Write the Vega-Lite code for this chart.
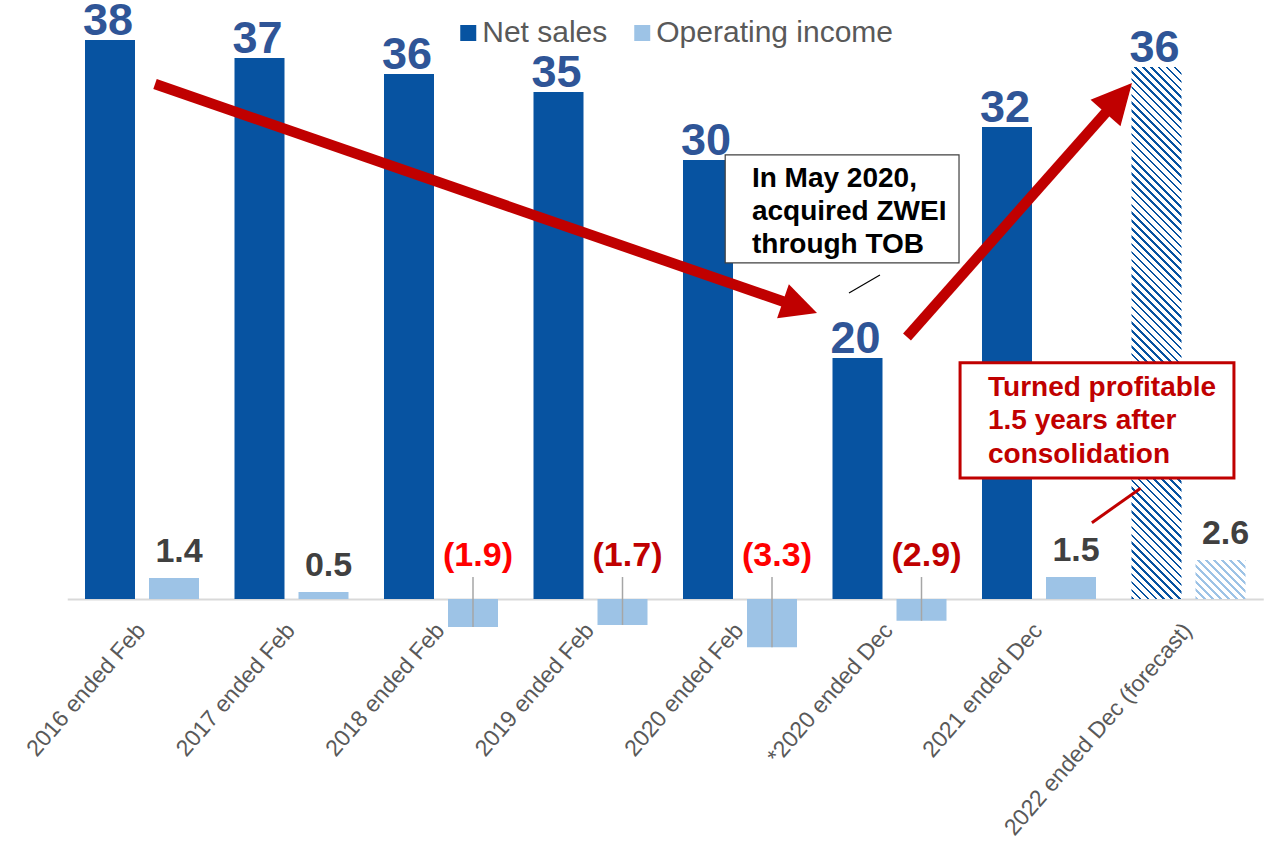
{
"$schema":"https://vega.github.io/schema/vega-lite/v6.json",
"width":1196,"height":660,
"autosize":{"type":"none"},
"padding":{"left":67.25,"right":2.75,"top":0,"bottom":184},
"background":"#ffffff",
"config":{"view":{"stroke":null},"font":"Liberation Sans"},
"datasets":{
"fin":[
{"period":"2016 ended Feb","series":"Net sales","value":38.16,"label":"38"},
{"period":"2017 ended Feb","series":"Net sales","value":36.93,"label":"37"},
{"period":"2018 ended Feb","series":"Net sales","value":35.84,"label":"36"},
{"period":"2019 ended Feb","series":"Net sales","value":34.61,"label":"35"},
{"period":"2020 ended Feb","series":"Net sales","value":29.97,"label":"30"},
{"period":"*2020 ended Dec","series":"Net sales","value":16.45,"label":"20"},
{"period":"2021 ended Dec","series":"Net sales","value":32.22,"label":"32"},
{"period":"2022 ended Dec (forecast)","series":"Net sales","value":36.31,"label":"36"},
{"period":"2016 ended Feb","series":"Operating income","value":1.43,"label":"1.4"},
{"period":"2017 ended Feb","series":"Operating income","value":0.48,"label":"0.5"},
{"period":"2018 ended Feb","series":"Operating income","value":-1.91,"label":"(1.9)"},
{"period":"2019 ended Feb","series":"Operating income","value":-1.77,"label":"(1.7)"},
{"period":"2020 ended Feb","series":"Operating income","value":-3.3,"label":"(3.3)"},
{"period":"*2020 ended Dec","series":"Operating income","value":-1.49,"label":"(2.9)"},
{"period":"2021 ended Dec","series":"Operating income","value":1.5,"label":"1.5"},
{"period":"2022 ended Dec (forecast)","series":"Operating income","value":2.66,"label":"2.6"}
],
"notes":[
{"kind":"shaft","x":0.587,"y":35.15,"x2":4.808,"y2":20.24},
{"kind":"shaft","x":5.617,"y":17.88,"x2":6.962,"y2":33.38},
{"kind":"head1","x":5.015,"y":19.52},
{"kind":"head2","x":7.122,"y":35.22},
{"kind":"box1","x":4.401,"x2":5.965,"y":30.31,"y2":22.94},
{"kind":"box2","x":5.972,"x2":7.804,"y":16.13,"y2":8.26},
{"kind":"lead1","x":5.436,"y":22.12,"x2":5.229,"y2":20.89},
{"kind":"lead2","x":6.854,"y":5.21,"x2":7.18,"y2":7.56},
{"kind":"text1","x":4.58,"y":28.14,"text":"In May 2020,\nacquired ZWEI\nthrough TOB"},
{"kind":"text2","x":6.159,"y":13.86,"text":"Turned profitable\n1.5 years after\nconsolidation"}
]
},
"layer":[
  {"data":{"name":"fin"},
   "transform":[{"filter":"datum.period != '2022 ended Dec (forecast)'"}],
   "mark":{"type":"bar"},
   "encoding":{
    "x":{"field":"period","type":"nominal","sort":null,
     "scale":{"domain":["2016 ended Feb","2017 ended Feb","2018 ended Feb","2019 ended Feb","2020 ended Feb","*2020 ended Dec","2021 ended Dec","2022 ended Dec (forecast)"],"paddingInner":0,"paddingOuter":0},
     "axis":{"title":null,"labelAngle":-49,"labelAlign":"right","labelBaseline":"top","labelFontSize":23,"labelColor":"#595959","labelFont":"Liberation Sans","ticks":false,"tickSize":0,"labelPadding":20,"labelOffset":-9,"domainColor":"#D9D9D9","domainWidth":2,"offset":-61,"labelLimit":400,"labelOverlap":false,"grid":false}},
    "xOffset":{"field":"series","type":"nominal","scale":{"domain":["Net sales","Operating income"],"paddingInner":0.21875,"paddingOuter":0.2773}},
    "y":{"field":"value","type":"quantitative","scale":{"domain":[-4.164,40.887],"nice":false,"zero":false},"axis":null},
    "color":{"field":"series","type":"nominal","scale":{"domain":["Net sales","Operating income"],"range":["#0753A1","#9DC3E6"]},
     "legend":{"orient":"none","legendX":386,"legendY":18,"direction":"horizontal","title":null,"symbolType":"square","symbolSize":256,"symbolStrokeWidth":0,"symbolOpacity":1,"labelFontSize":30,"labelColor":"#595959","labelFont":"Liberation Sans","labelLimit":400,"padding":0,"columnPadding":19,"labelOffset":-1}}
   }},
  {"data":{"name":"fin"},
   "transform":[{"filter":"datum.period == '2022 ended Dec (forecast)' && datum.series == 'Net sales'"}],
   "mark":{"type":"bar","color":{"gradient":"linear","x1":0,"y1":1,"x2":0.10192,"y2":-0.08443,"stops":[
{"offset":0,"color":"#0753a1"},{"offset":0.0045,"color":"#0753a1"},{"offset":0.0045,"color":"#fff"},{"offset":0.0135,"color":"#fff"},
{"offset":0.0135,"color":"#0753a1"},{"offset":0.018,"color":"#0753a1"},{"offset":0.018,"color":"#fff"},{"offset":0.027,"color":"#fff"},
{"offset":0.027,"color":"#0753a1"},{"offset":0.0315,"color":"#0753a1"},{"offset":0.0315,"color":"#fff"},{"offset":0.0405,"color":"#fff"},
{"offset":0.0405,"color":"#0753a1"},{"offset":0.045,"color":"#0753a1"},{"offset":0.045,"color":"#fff"},{"offset":0.054,"color":"#fff"},
{"offset":0.054,"color":"#0753a1"},{"offset":0.0585,"color":"#0753a1"},{"offset":0.0585,"color":"#fff"},{"offset":0.0675,"color":"#fff"},
{"offset":0.0675,"color":"#0753a1"},{"offset":0.072,"color":"#0753a1"},{"offset":0.072,"color":"#fff"},{"offset":0.081,"color":"#fff"},
{"offset":0.081,"color":"#0753a1"},{"offset":0.0855,"color":"#0753a1"},{"offset":0.0855,"color":"#fff"},{"offset":0.0945,"color":"#fff"},
{"offset":0.0945,"color":"#0753a1"},{"offset":0.099,"color":"#0753a1"},{"offset":0.099,"color":"#fff"},{"offset":0.108,"color":"#fff"},
{"offset":0.108,"color":"#0753a1"},{"offset":0.1125,"color":"#0753a1"},{"offset":0.1125,"color":"#fff"},{"offset":0.1215,"color":"#fff"},
{"offset":0.1215,"color":"#0753a1"},{"offset":0.126,"color":"#0753a1"},{"offset":0.126,"color":"#fff"},{"offset":0.135,"color":"#fff"},
{"offset":0.135,"color":"#0753a1"},{"offset":0.1395,"color":"#0753a1"},{"offset":0.1395,"color":"#fff"},{"offset":0.1485,"color":"#fff"},
{"offset":0.1485,"color":"#0753a1"},{"offset":0.153,"color":"#0753a1"},{"offset":0.153,"color":"#fff"},{"offset":0.162,"color":"#fff"},
{"offset":0.162,"color":"#0753a1"},{"offset":0.1665,"color":"#0753a1"},{"offset":0.1665,"color":"#fff"},{"offset":0.1755,"color":"#fff"},
{"offset":0.1755,"color":"#0753a1"},{"offset":0.18,"color":"#0753a1"},{"offset":0.18,"color":"#fff"},{"offset":0.189,"color":"#fff"},
{"offset":0.189,"color":"#0753a1"},{"offset":0.1935,"color":"#0753a1"},{"offset":0.1935,"color":"#fff"},{"offset":0.2025,"color":"#fff"},
{"offset":0.2025,"color":"#0753a1"},{"offset":0.207,"color":"#0753a1"},{"offset":0.207,"color":"#fff"},{"offset":0.216,"color":"#fff"},
{"offset":0.216,"color":"#0753a1"},{"offset":0.2205,"color":"#0753a1"},{"offset":0.2205,"color":"#fff"},{"offset":0.2295,"color":"#fff"},
{"offset":0.2295,"color":"#0753a1"},{"offset":0.234,"color":"#0753a1"},{"offset":0.234,"color":"#fff"},{"offset":0.243,"color":"#fff"},
{"offset":0.243,"color":"#0753a1"},{"offset":0.2475,"color":"#0753a1"},{"offset":0.2475,"color":"#fff"},{"offset":0.2565,"color":"#fff"},
{"offset":0.2565,"color":"#0753a1"},{"offset":0.261,"color":"#0753a1"},{"offset":0.261,"color":"#fff"},{"offset":0.27,"color":"#fff"},
{"offset":0.27,"color":"#0753a1"},{"offset":0.2745,"color":"#0753a1"},{"offset":0.2745,"color":"#fff"},{"offset":0.2835,"color":"#fff"},
{"offset":0.2835,"color":"#0753a1"},{"offset":0.288,"color":"#0753a1"},{"offset":0.288,"color":"#fff"},{"offset":0.297,"color":"#fff"},
{"offset":0.297,"color":"#0753a1"},{"offset":0.3015,"color":"#0753a1"},{"offset":0.3015,"color":"#fff"},{"offset":0.3105,"color":"#fff"},
{"offset":0.3105,"color":"#0753a1"},{"offset":0.315,"color":"#0753a1"},{"offset":0.315,"color":"#fff"},{"offset":0.324,"color":"#fff"},
{"offset":0.324,"color":"#0753a1"},{"offset":0.3285,"color":"#0753a1"},{"offset":0.3285,"color":"#fff"},{"offset":0.3375,"color":"#fff"},
{"offset":0.3375,"color":"#0753a1"},{"offset":0.342,"color":"#0753a1"},{"offset":0.342,"color":"#fff"},{"offset":0.351,"color":"#fff"},
{"offset":0.351,"color":"#0753a1"},{"offset":0.3555,"color":"#0753a1"},{"offset":0.3555,"color":"#fff"},{"offset":0.3645,"color":"#fff"},
{"offset":0.3645,"color":"#0753a1"},{"offset":0.369,"color":"#0753a1"},{"offset":0.369,"color":"#fff"},{"offset":0.378,"color":"#fff"},
{"offset":0.378,"color":"#0753a1"},{"offset":0.3825,"color":"#0753a1"},{"offset":0.3825,"color":"#fff"},{"offset":0.3915,"color":"#fff"},
{"offset":0.3915,"color":"#0753a1"},{"offset":0.396,"color":"#0753a1"},{"offset":0.396,"color":"#fff"},{"offset":0.405,"color":"#fff"},
{"offset":0.405,"color":"#0753a1"},{"offset":0.4095,"color":"#0753a1"},{"offset":0.4095,"color":"#fff"},{"offset":0.4185,"color":"#fff"},
{"offset":0.4185,"color":"#0753a1"},{"offset":0.423,"color":"#0753a1"},{"offset":0.423,"color":"#fff"},{"offset":0.432,"color":"#fff"},
{"offset":0.432,"color":"#0753a1"},{"offset":0.4365,"color":"#0753a1"},{"offset":0.4365,"color":"#fff"},{"offset":0.4455,"color":"#fff"},
{"offset":0.4455,"color":"#0753a1"},{"offset":0.45,"color":"#0753a1"},{"offset":0.45,"color":"#fff"},{"offset":0.459,"color":"#fff"},
{"offset":0.459,"color":"#0753a1"},{"offset":0.4635,"color":"#0753a1"},{"offset":0.4635,"color":"#fff"},{"offset":0.4725,"color":"#fff"},
{"offset":0.4725,"color":"#0753a1"},{"offset":0.477,"color":"#0753a1"},{"offset":0.477,"color":"#fff"},{"offset":0.486,"color":"#fff"},
{"offset":0.486,"color":"#0753a1"},{"offset":0.4905,"color":"#0753a1"},{"offset":0.4905,"color":"#fff"},{"offset":0.4995,"color":"#fff"},
{"offset":0.4995,"color":"#0753a1"},{"offset":0.504,"color":"#0753a1"},{"offset":0.504,"color":"#fff"},{"offset":0.513,"color":"#fff"},
{"offset":0.513,"color":"#0753a1"},{"offset":0.5175,"color":"#0753a1"},{"offset":0.5175,"color":"#fff"},{"offset":0.5265,"color":"#fff"},
{"offset":0.5265,"color":"#0753a1"},{"offset":0.531,"color":"#0753a1"},{"offset":0.531,"color":"#fff"},{"offset":0.54,"color":"#fff"},
{"offset":0.54,"color":"#0753a1"},{"offset":0.5445,"color":"#0753a1"},{"offset":0.5445,"color":"#fff"},{"offset":0.5535,"color":"#fff"},
{"offset":0.5535,"color":"#0753a1"},{"offset":0.558,"color":"#0753a1"},{"offset":0.558,"color":"#fff"},{"offset":0.567,"color":"#fff"},
{"offset":0.567,"color":"#0753a1"},{"offset":0.5715,"color":"#0753a1"},{"offset":0.5715,"color":"#fff"},{"offset":0.5805,"color":"#fff"},
{"offset":0.5805,"color":"#0753a1"},{"offset":0.585,"color":"#0753a1"},{"offset":0.585,"color":"#fff"},{"offset":0.594,"color":"#fff"},
{"offset":0.594,"color":"#0753a1"},{"offset":0.5985,"color":"#0753a1"},{"offset":0.5985,"color":"#fff"},{"offset":0.6075,"color":"#fff"},
{"offset":0.6075,"color":"#0753a1"},{"offset":0.612,"color":"#0753a1"},{"offset":0.612,"color":"#fff"},{"offset":0.621,"color":"#fff"},
{"offset":0.621,"color":"#0753a1"},{"offset":0.6255,"color":"#0753a1"},{"offset":0.6255,"color":"#fff"},{"offset":0.6345,"color":"#fff"},
{"offset":0.6345,"color":"#0753a1"},{"offset":0.639,"color":"#0753a1"},{"offset":0.639,"color":"#fff"},{"offset":0.648,"color":"#fff"},
{"offset":0.648,"color":"#0753a1"},{"offset":0.6525,"color":"#0753a1"},{"offset":0.6525,"color":"#fff"},{"offset":0.6615,"color":"#fff"},
{"offset":0.6615,"color":"#0753a1"},{"offset":0.666,"color":"#0753a1"},{"offset":0.666,"color":"#fff"},{"offset":0.675,"color":"#fff"},
{"offset":0.675,"color":"#0753a1"},{"offset":0.6795,"color":"#0753a1"},{"offset":0.6795,"color":"#fff"},{"offset":0.6885,"color":"#fff"},
{"offset":0.6885,"color":"#0753a1"},{"offset":0.693,"color":"#0753a1"},{"offset":0.693,"color":"#fff"},{"offset":0.702,"color":"#fff"},
{"offset":0.702,"color":"#0753a1"},{"offset":0.7065,"color":"#0753a1"},{"offset":0.7065,"color":"#fff"},{"offset":0.7155,"color":"#fff"},
{"offset":0.7155,"color":"#0753a1"},{"offset":0.72,"color":"#0753a1"},{"offset":0.72,"color":"#fff"},{"offset":0.729,"color":"#fff"},
{"offset":0.729,"color":"#0753a1"},{"offset":0.7335,"color":"#0753a1"},{"offset":0.7335,"color":"#fff"},{"offset":0.7425,"color":"#fff"},
{"offset":0.7425,"color":"#0753a1"},{"offset":0.747,"color":"#0753a1"},{"offset":0.747,"color":"#fff"},{"offset":0.756,"color":"#fff"},
{"offset":0.756,"color":"#0753a1"},{"offset":0.7605,"color":"#0753a1"},{"offset":0.7605,"color":"#fff"},{"offset":0.7695,"color":"#fff"},
{"offset":0.7695,"color":"#0753a1"},{"offset":0.774,"color":"#0753a1"},{"offset":0.774,"color":"#fff"},{"offset":0.783,"color":"#fff"},
{"offset":0.783,"color":"#0753a1"},{"offset":0.7875,"color":"#0753a1"},{"offset":0.7875,"color":"#fff"},{"offset":0.7965,"color":"#fff"},
{"offset":0.7965,"color":"#0753a1"},{"offset":0.801,"color":"#0753a1"},{"offset":0.801,"color":"#fff"},{"offset":0.81,"color":"#fff"},
{"offset":0.81,"color":"#0753a1"},{"offset":0.8145,"color":"#0753a1"},{"offset":0.8145,"color":"#fff"},{"offset":0.8235,"color":"#fff"},
{"offset":0.8235,"color":"#0753a1"},{"offset":0.828,"color":"#0753a1"},{"offset":0.828,"color":"#fff"},{"offset":0.837,"color":"#fff"},
{"offset":0.837,"color":"#0753a1"},{"offset":0.8415,"color":"#0753a1"},{"offset":0.8415,"color":"#fff"},{"offset":0.8505,"color":"#fff"},
{"offset":0.8505,"color":"#0753a1"},{"offset":0.855,"color":"#0753a1"},{"offset":0.855,"color":"#fff"},{"offset":0.864,"color":"#fff"},
{"offset":0.864,"color":"#0753a1"},{"offset":0.8685,"color":"#0753a1"},{"offset":0.8685,"color":"#fff"},{"offset":0.8775,"color":"#fff"},
{"offset":0.8775,"color":"#0753a1"},{"offset":0.882,"color":"#0753a1"},{"offset":0.882,"color":"#fff"},{"offset":0.891,"color":"#fff"},
{"offset":0.891,"color":"#0753a1"},{"offset":0.8955,"color":"#0753a1"},{"offset":0.8955,"color":"#fff"},{"offset":0.9045,"color":"#fff"},
{"offset":0.9045,"color":"#0753a1"},{"offset":0.909,"color":"#0753a1"},{"offset":0.909,"color":"#fff"},{"offset":0.918,"color":"#fff"},
{"offset":0.918,"color":"#0753a1"},{"offset":0.9225,"color":"#0753a1"},{"offset":0.9225,"color":"#fff"},{"offset":0.9315,"color":"#fff"},
{"offset":0.9315,"color":"#0753a1"},{"offset":0.936,"color":"#0753a1"},{"offset":0.936,"color":"#fff"},{"offset":0.945,"color":"#fff"},
{"offset":0.945,"color":"#0753a1"},{"offset":0.9495,"color":"#0753a1"},{"offset":0.9495,"color":"#fff"},{"offset":0.9585,"color":"#fff"},
{"offset":0.9585,"color":"#0753a1"},{"offset":0.963,"color":"#0753a1"},{"offset":0.963,"color":"#fff"},{"offset":0.972,"color":"#fff"},
{"offset":0.972,"color":"#0753a1"},{"offset":0.9765,"color":"#0753a1"},{"offset":0.9765,"color":"#fff"},{"offset":0.9855,"color":"#fff"},
{"offset":0.9855,"color":"#0753a1"},{"offset":0.99,"color":"#0753a1"},{"offset":0.99,"color":"#fff"},{"offset":1,"color":"#fff"}
]}},
   "encoding":{
    "x":{"field":"period","type":"nominal","sort":null,"scale":{"domain":["2016 ended Feb","2017 ended Feb","2018 ended Feb","2019 ended Feb","2020 ended Feb","*2020 ended Dec","2021 ended Dec","2022 ended Dec (forecast)"],"paddingInner":0,"paddingOuter":0},"axis":null},
    "xOffset":{"field":"series","type":"nominal","scale":{"domain":["Net sales","Operating income"],"paddingInner":0.21875,"paddingOuter":0.2773}},
    "y":{"field":"value","type":"quantitative","scale":{"domain":[-4.164,40.887],"nice":false,"zero":false},"axis":null}}},
  {"data":{"name":"fin"},
   "transform":[{"filter":"datum.period == '2022 ended Dec (forecast)' && datum.series == 'Operating income'"}],
   "mark":{"type":"bar","color":{"gradient":"linear","x1":0,"y1":1,"x2":1.1067,"y2":0.1368,"stops":[
{"offset":0,"color":"#9dc3e6"},{"offset":0.03,"color":"#9dc3e6"},{"offset":0.03,"color":"#fff"},{"offset":0.09,"color":"#fff"},
{"offset":0.09,"color":"#9dc3e6"},{"offset":0.12,"color":"#9dc3e6"},{"offset":0.12,"color":"#fff"},{"offset":0.18,"color":"#fff"},
{"offset":0.18,"color":"#9dc3e6"},{"offset":0.21,"color":"#9dc3e6"},{"offset":0.21,"color":"#fff"},{"offset":0.27,"color":"#fff"},
{"offset":0.27,"color":"#9dc3e6"},{"offset":0.3,"color":"#9dc3e6"},{"offset":0.3,"color":"#fff"},{"offset":0.36,"color":"#fff"},
{"offset":0.36,"color":"#9dc3e6"},{"offset":0.39,"color":"#9dc3e6"},{"offset":0.39,"color":"#fff"},{"offset":0.45,"color":"#fff"},
{"offset":0.45,"color":"#9dc3e6"},{"offset":0.48,"color":"#9dc3e6"},{"offset":0.48,"color":"#fff"},{"offset":0.54,"color":"#fff"},
{"offset":0.54,"color":"#9dc3e6"},{"offset":0.57,"color":"#9dc3e6"},{"offset":0.57,"color":"#fff"},{"offset":0.63,"color":"#fff"},
{"offset":0.63,"color":"#9dc3e6"},{"offset":0.66,"color":"#9dc3e6"},{"offset":0.66,"color":"#fff"},{"offset":0.72,"color":"#fff"},
{"offset":0.72,"color":"#9dc3e6"},{"offset":0.75,"color":"#9dc3e6"},{"offset":0.75,"color":"#fff"},{"offset":0.81,"color":"#fff"},
{"offset":0.81,"color":"#9dc3e6"},{"offset":0.84,"color":"#9dc3e6"},{"offset":0.84,"color":"#fff"},{"offset":0.9,"color":"#fff"},
{"offset":0.9,"color":"#9dc3e6"},{"offset":0.93,"color":"#9dc3e6"},{"offset":0.93,"color":"#fff"},{"offset":0.99,"color":"#fff"},
{"offset":0.99,"color":"#9dc3e6"},{"offset":1,"color":"#9dc3e6"}
]}},
   "encoding":{
    "x":{"field":"period","type":"nominal","sort":null,"scale":{"domain":["2016 ended Feb","2017 ended Feb","2018 ended Feb","2019 ended Feb","2020 ended Feb","*2020 ended Dec","2021 ended Dec","2022 ended Dec (forecast)"],"paddingInner":0,"paddingOuter":0},"axis":null},
    "xOffset":{"field":"series","type":"nominal","scale":{"domain":["Net sales","Operating income"],"paddingInner":0.21875,"paddingOuter":0.2773}},
    "y":{"field":"value","type":"quantitative","scale":{"domain":[-4.164,40.887],"nice":false,"zero":false},"axis":null}}},
  {"data":{"name":"fin"},
   "transform":[{"filter":"datum.value < 0"}],
   "mark":{"type":"rule","color":"#A6A6A6","strokeWidth":1.5},
   "encoding":{
    "x":{"field":"period","type":"nominal","sort":null,"scale":{"domain":["2016 ended Feb","2017 ended Feb","2018 ended Feb","2019 ended Feb","2020 ended Feb","*2020 ended Dec","2021 ended Dec","2022 ended Dec (forecast)"],"paddingInner":0,"paddingOuter":0},"axis":null},
    "xOffset":{"field":"series","type":"nominal","scale":{"domain":["Net sales","Operating income"],"paddingInner":0.21875,"paddingOuter":0.2773}},
    "y":{"field":"value","type":"quantitative","scale":{"domain":[-4.164,40.887],"nice":false,"zero":false},"axis":null},
    "y2":{"datum":1.5}}},
  {"data":{"name":"fin"},
   "transform":[{"filter":"datum.series == 'Net sales'"}],
   "mark":{"type":"text","fontSize":45,"fontWeight":"bold","color":"#2F5597","baseline":"alphabetic","dy":-5,"dx":-34,"font":"Liberation Sans"},
   "encoding":{
    "x":{"field":"period","type":"nominal","sort":null,"scale":{"domain":["2016 ended Feb","2017 ended Feb","2018 ended Feb","2019 ended Feb","2020 ended Feb","*2020 ended Dec","2021 ended Dec","2022 ended Dec (forecast)"],"paddingInner":0,"paddingOuter":0},"axis":null},
    "y":{"field":"value","type":"quantitative","scale":{"domain":[-4.164,40.887],"nice":false,"zero":false},"axis":null},
    "text":{"field":"label"}}},
  {"data":{"name":"fin"},
   "transform":[{"filter":"datum.series == 'Operating income' && datum.value > 0"}],
   "mark":{"type":"text","fontSize":34,"fontWeight":"bold","color":"#404040","baseline":"alphabetic","dy":-16,"dx":37,"font":"Liberation Sans"},
   "encoding":{
    "x":{"field":"period","type":"nominal","sort":null,"scale":{"domain":["2016 ended Feb","2017 ended Feb","2018 ended Feb","2019 ended Feb","2020 ended Feb","*2020 ended Dec","2021 ended Dec","2022 ended Dec (forecast)"],"paddingInner":0,"paddingOuter":0},"axis":null},
    "y":{"field":"value","type":"quantitative","scale":{"domain":[-4.164,40.887],"nice":false,"zero":false},"axis":null},
    "text":{"field":"label"}}},
  {"data":{"name":"fin"},
   "transform":[{"filter":"datum.series == 'Operating income' && datum.value < 0"}],
   "mark":{"type":"text","fontSize":34,"fontWeight":"bold","baseline":"alphabetic","dy":-33,"dx":37,"font":"Liberation Sans"},
   "encoding":{
    "x":{"field":"period","type":"nominal","sort":null,"scale":{"domain":["2016 ended Feb","2017 ended Feb","2018 ended Feb","2019 ended Feb","2020 ended Feb","*2020 ended Dec","2021 ended Dec","2022 ended Dec (forecast)"],"paddingInner":0,"paddingOuter":0},"axis":null},
    "y":{"datum":0,"type":"quantitative","scale":{"domain":[-4.164,40.887],"nice":false,"zero":false},"axis":null},
    "text":{"field":"label"},
    "color":{"condition":{"test":"datum.period == '2018 ended Feb' || datum.period == '2020 ended Feb'","value":"#FF0000"},"value":"#C00000"}}},
  {"data":{"name":"notes"},
   "transform":[{"filter":"datum.kind == 'shaft'"}],
   "mark":{"type":"rule","color":"#C00000","strokeWidth":10.5,"strokeCap":"butt"},
   "encoding":{
    "x":{"field":"x","type":"quantitative","scale":{"domain":[0,8],"nice":false,"zero":false},"axis":null},
    "y":{"field":"y","type":"quantitative","scale":{"domain":[-4.164,40.887],"nice":false,"zero":false},"axis":null},
    "x2":{"field":"x2"},"y2":{"field":"y2"}}},
  {"data":{"name":"notes"},
   "transform":[{"filter":"datum.kind == 'head1'"}],
   "mark":{"type":"point","shape":"M0,0L-0.5,1L0.5,1Z","size":5184,"angle":109.1,"filled":true,"color":"#C00000","opacity":1,"strokeWidth":0},
   "encoding":{
    "x":{"field":"x","type":"quantitative","scale":{"domain":[0,8],"nice":false,"zero":false},"axis":null},
    "y":{"field":"y","type":"quantitative","scale":{"domain":[-4.164,40.887],"nice":false,"zero":false},"axis":null}}},
  {"data":{"name":"notes"},
   "transform":[{"filter":"datum.kind == 'head2'"}],
   "mark":{"type":"point","shape":"M0,0L-0.5,1L0.5,1Z","size":6400,"angle":41.5,"filled":true,"color":"#C00000","opacity":1,"strokeWidth":0},
   "encoding":{
    "x":{"field":"x","type":"quantitative","scale":{"domain":[0,8],"nice":false,"zero":false},"axis":null},
    "y":{"field":"y","type":"quantitative","scale":{"domain":[-4.164,40.887],"nice":false,"zero":false},"axis":null}}},
  {"data":{"name":"notes"},
   "transform":[{"filter":"datum.kind == 'box1'"}],
   "mark":{"type":"rect","fill":"#ffffff","stroke":"#404040","strokeWidth":1.2},
   "encoding":{
    "x":{"field":"x","type":"quantitative","scale":{"domain":[0,8],"nice":false,"zero":false},"axis":null},
    "y":{"field":"y","type":"quantitative","scale":{"domain":[-4.164,40.887],"nice":false,"zero":false},"axis":null},
    "x2":{"field":"x2"},"y2":{"field":"y2"}}},
  {"data":{"name":"notes"},
   "transform":[{"filter":"datum.kind == 'box2'"}],
   "mark":{"type":"rect","fill":"#ffffff","stroke":"#C00000","strokeWidth":3},
   "encoding":{
    "x":{"field":"x","type":"quantitative","scale":{"domain":[0,8],"nice":false,"zero":false},"axis":null},
    "y":{"field":"y","type":"quantitative","scale":{"domain":[-4.164,40.887],"nice":false,"zero":false},"axis":null},
    "x2":{"field":"x2"},"y2":{"field":"y2"}}},
  {"data":{"name":"notes"},
   "transform":[{"filter":"datum.kind == 'lead1'"}],
   "mark":{"type":"rule","color":"#000000","strokeWidth":1.2},
   "encoding":{
    "x":{"field":"x","type":"quantitative","scale":{"domain":[0,8],"nice":false,"zero":false},"axis":null},
    "y":{"field":"y","type":"quantitative","scale":{"domain":[-4.164,40.887],"nice":false,"zero":false},"axis":null},
    "x2":{"field":"x2"},"y2":{"field":"y2"}}},
  {"data":{"name":"notes"},
   "transform":[{"filter":"datum.kind == 'lead2'"}],
   "mark":{"type":"rule","color":"#C00000","strokeWidth":3},
   "encoding":{
    "x":{"field":"x","type":"quantitative","scale":{"domain":[0,8],"nice":false,"zero":false},"axis":null},
    "y":{"field":"y","type":"quantitative","scale":{"domain":[-4.164,40.887],"nice":false,"zero":false},"axis":null},
    "x2":{"field":"x2"},"y2":{"field":"y2"}}},
  {"data":{"name":"notes"},
   "transform":[{"filter":"datum.kind == 'text1'"}],
   "mark":{"type":"text","align":"left","baseline":"alphabetic","fontSize":28,"fontWeight":"bold","color":"#000000","lineBreak":"\n","lineHeight":33,"font":"Liberation Sans"},
   "encoding":{
    "x":{"field":"x","type":"quantitative","scale":{"domain":[0,8],"nice":false,"zero":false},"axis":null},
    "y":{"field":"y","type":"quantitative","scale":{"domain":[-4.164,40.887],"nice":false,"zero":false},"axis":null},
    "text":{"field":"text"}}},
  {"data":{"name":"notes"},
   "transform":[{"filter":"datum.kind == 'text2'"}],
   "mark":{"type":"text","align":"left","baseline":"alphabetic","fontSize":28,"fontWeight":"bold","color":"#C00000","lineBreak":"\n","lineHeight":33.5,"font":"Liberation Sans"},
   "encoding":{
    "x":{"field":"x","type":"quantitative","scale":{"domain":[0,8],"nice":false,"zero":false},"axis":null},
    "y":{"field":"y","type":"quantitative","scale":{"domain":[-4.164,40.887],"nice":false,"zero":false},"axis":null},
    "text":{"field":"text"}}}
],
"resolve":{"scale":{"x":"independent","xOffset":"independent"}}
}
